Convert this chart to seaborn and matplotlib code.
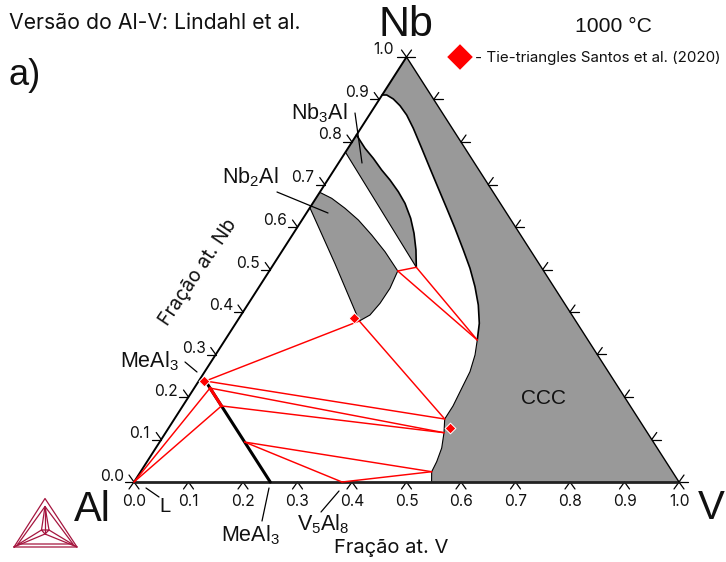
import matplotlib
matplotlib.use("Agg")
import matplotlib.pyplot as plt
import numpy as np
import seaborn as sns

# Phase boundaries as compositions (fraction V, fraction Nb)
ccc_v = [0.546, 0.5341, 0.5315, 0.5246, 0.5108, 0.496, 0.4959, 0.4911, 0.4867, 0.4763, 0.4628, 0.4469, 0.4235, 0.3959,
         0.3651, 0.3313, 0.2905, 0.2518, 0.2128, 0.174, 0.1353, 0.0964, 0.0686, 0.0454, 0.0252, 0.0084, 0.0]
ccc_nb = [0.0, 0.0242, 0.0478, 0.08, 0.116, 0.1482, 0.1788, 0.2205, 0.2595, 0.2988, 0.3341, 0.3734, 0.4165, 0.4595,
          0.5028, 0.5459, 0.5969, 0.644, 0.6911, 0.7381, 0.7852, 0.8322, 0.8635, 0.8854, 0.9012, 0.9106, 0.9106]

nb3al_v = [0.0, 0.0313, 0.0583, 0.0874, 0.1144, 0.1434, 0.1693, 0.1974, 0.2212, 0.2444, 0.2654]
nb3al_nb = [0.8165, 0.7852, 0.7616, 0.7341, 0.7106, 0.6831, 0.6558, 0.6205, 0.5852, 0.5459, 0.5052]

nb2al_v = [0.0, 0.029, 0.0652, 0.1034, 0.1455, 0.1896, 0.2357, 0.2418, 0.2412, 0.2365, 0.224, 0.112, 0.0]
nb2al_nb = [0.6816, 0.6675, 0.644, 0.6165, 0.5812, 0.5419, 0.4965, 0.4558, 0.4205, 0.3929, 0.3788, 0.5136, 0.6454]

meal3_v = [0.0124, 0.25]
meal3_nb = [0.2376, 0.0]

# Tie-line ends: (V, Nb)
tie_lines = [
    ((0.2357, 0.4965), (0.2654, 0.5052)),
    ((0.2357, 0.4965), (0.4628, 0.3341)),
    ((0.2654, 0.5052), (0.4628, 0.3341)),
    ((0.224, 0.3788), (0.0124, 0.2376)),
    ((0.224, 0.3788), (0.496, 0.1482)),
    ((0.0124, 0.2376), (0.496, 0.1482)),
    ((0.029, 0.221), (0.5108, 0.116)),
    ((0.029, 0.221), (0.0, 0.0)),
    ((0.071, 0.179), (0.5108, 0.116)),
    ((0.071, 0.179), (0.0, 0.0)),
    ((0.156, 0.094), (0.5341, 0.0242)),
    ((0.156, 0.094), (0.3817, 0.0)),
    ((0.3817, 0.0), (0.5341, 0.0242)),
]

# Santos et al. (2020) points
santos_v = [0.211, 0.0093, 0.516]
santos_nb = [0.3859, 0.2376, 0.127]

ticks = [0.1, 0.2, 0.3, 0.4, 0.5, 0.6, 0.7, 0.8, 0.9]
tick_labels = ["0.0", "0.1", "0.2", "0.3", "0.4", "0.5", "0.6", "0.7", "0.8", "0.9", "1.0"]

W, H = 726, 562
X0, X1, Y0, Y1 = 134, 679, 482, 57
SX, SY = X1 - X0, Y0 - Y1
GREY = "#999999"
RED = "#ff0000"
LOGO = "#a5163f"
WIDE = ["Inter", "Liberation Sans"]

sns.set_theme(style="white")
plt.rcParams["font.family"] = ["Liberation Sans", "DejaVu Sans"]
plt.rcParams["mathtext.fontset"] = "custom"
plt.rcParams["mathtext.rm"] = "Liberation Sans"
plt.rcParams["mathtext.default"] = "rm"


def cart(v, nb):
    v, nb = np.asarray(v, float), np.asarray(nb, float)
    return v + nb / 2, nb


def px(x, y):
    return (np.asarray(x, float) - X0) / SX, (Y0 - np.asarray(y, float)) / SY


fig = plt.figure(figsize=(W / 100, H / 100), dpi=100)
ax = fig.add_axes([0, 0, 1, 1])
ax.set_xlim(-X0 / SX, (W - X0) / SX)
ax.set_ylim((Y0 - H) / SY, Y0 / SY)
ax.axis("off")


def line(x, y, color="black", lw=1.0, z=3):
    sns.lineplot(x=x, y=y, sort=False, estimator=None, color=color, linewidth=lw, zorder=z, ax=ax)


def px_line(x, y, color="black", lw=1.0):
    a, b = px(x, y)
    ax.plot(a, b, color=color, lw=lw, solid_capstyle="round", zorder=6)


def label(x, y, s, size, ha="left", va="baseline", **kw):
    fig.text(x / W, 1 - y / H, s, fontsize=size, ha=ha, va=va, color="#111111", **kw)


# Grey single phase regions
x, y = cart(ccc_v + [0.0, 1.0], ccc_nb + [1.0, 0.0])
ax.fill(x, y, color=GREY, lw=0, zorder=1)
x, y = cart(nb3al_v + [0.0], nb3al_nb + [0.776])
ax.fill(x, y, color=GREY, lw=0, zorder=1)
x, y = cart(nb2al_v, nb2al_nb)
ax.fill(x, y, color=GREY, lw=0, zorder=1)

# Boundaries
x, y = cart(ccc_v, ccc_nb)
line(x[:11], y[:11], lw=0.8)
line(x[10:], y[10:], lw=1.2)
x, y = cart(nb3al_v, nb3al_nb)
line(x, y, lw=1.2)
x, y = cart([0.0, nb3al_v[-1]], [0.776, nb3al_nb[-1]])
line(x, y, lw=0.8)
x, y = cart(nb2al_v, nb2al_nb)
line(x, y, lw=0.8)

# Triangle frame
x, y = cart([0, 1], [0, 0])
line(x, y, color="#222222", lw=2.0, z=4)
x, y = cart([0, 0], [0, 1])
line(x, y, lw=1.4, z=4)
x, y = cart([0, 1], [1, 0])
line(x, y, lw=1.0, z=4)

# MeAl3 line
x, y = cart(meal3_v, meal3_nb)
line(x, y, lw=2.2, z=4)

# Tie lines
for a, b in tie_lines:
    x, y = cart([a[0], b[0]], [a[1], b[1]])
    line(x, y, color=RED, lw=1.05, z=5)
x, y = cart([0.029, 0.071], [0.221, 0.179])
line(x, y, color=RED, lw=2.2, z=5)

# Santos points and the legend marker
x, y = cart(santos_v, santos_nb)
sns.scatterplot(x=x, y=y, marker="D", s=30, color=RED, edgecolor="white", linewidth=0.7, zorder=7, ax=ax)
a, b = px(460, 57)
sns.scatterplot(x=[a], y=[b], marker="D", s=170, color=RED, edgecolor="none", zorder=7, ax=ax)

# Ticks, drawn along the ternary grid directions
HL, DX, DY = 9 / SX, 5 / SX, 7 / SY
for t in ticks + [0.0, 1.0]:
    # Nb axis
    x0, y0 = cart(0, t)
    ax.plot([x0 - HL, x0], [y0, y0], color="black", lw=0.9, zorder=3)
    ax.plot([x0 - DX, x0], [y0 + DY, y0], color="black", lw=0.9, zorder=3)
    # V axis
    x0, y0 = cart(t, 0)
    ax.plot([x0 - DX, x0, x0 + DX], [y0 - DY, y0, y0 - DY], color="black", lw=0.9, zorder=3)
    # Nb-V side
    x0, y0 = cart(t, 1 - t)
    if t > 0:
        ax.plot([x0, x0 + HL], [y0, y0], color="black", lw=0.9, zorder=3)
        ax.plot([x0, x0 + DX], [y0, y0 + DY], color="black", lw=0.9, zorder=3)
x0, y0 = cart(0, 1)
ax.plot([x0, x0 + HL], [y0, y0], color="black", lw=0.9, zorder=3)
ax.plot([x0, x0 + DX], [y0, y0 + DY], color="black", lw=0.9, zorder=3)

# Tick labels
for i, s in enumerate(tick_labels):
    t = i / 10
    label(X0 + SX * t, 501, s, 11.2, ha="center", va="center", family=WIDE)
    label(112 + 272 * t, 476.5 - 427 * t, s, 11.2, ha="center", va="center", family=WIDE)

# Leaders
for xs, ys in [
    ([355, 362], [113, 163]),
    ([277, 328], [192, 213]),
    ([185, 197], [362, 372]),
    ([146, 159], [488, 497]),
    ([269, 262], [488, 521]),
    ([339, 321], [491, 512]),
]:
    px_line(xs, ys, lw=0.9)

# Labels
label(9, 29, "Versão do Al-V: Lindahl et al.", 15.3, family=WIDE)
label(9, 85, "a)", 26)
label(378, 36, "Nb", 31)
label(613, 32, "1000 °C", 15.2, ha="center")
label(475, 62, "- Tie-triangles Santos et al. (2020)", 10.9, family=WIDE)
label(74, 521, "Al", 30)
label(698, 519, "V", 29)
label(543, 404, "CCC", 15, ha="center")
label(334, 553, "Fração at. V", 14.5, family=WIDE)
label(198, 272, "Fração at. Nb", 14, ha="center", va="center", rotation=56, rotation_mode="anchor", family=WIDE)
label(291, 119, r"Nb$_3$Al", 15.5)
label(222, 183, r"Nb$_2$Al", 15.5)
label(120, 367, r"MeAl$_3$", 15.5)
label(159, 512, "L", 14.5)
label(221, 541, r"MeAl$_3$", 15.5)
label(297, 530, r"V$_5$Al$_8$", 15.5)

# Logo
logo_segments = [
    ([14, 45, 77, 14], [547, 498.5, 547, 547]),
    ([18, 45, 73, 18], [544, 506.5, 544, 544]),
    ([41.5, 49, 45, 41.5], [530, 530, 534, 530]),
    ([45, 41.5], [506.5, 530]),
    ([45, 49], [506.5, 530]),
    ([14, 45, 77], [547, 534, 547]),
    ([14, 41.5], [547, 530]),
    ([77, 49], [547, 530]),
    ([45, 45], [534, 506.5]),
]
for xs, ys in logo_segments:
    a, b = px(xs, ys)
    ax.plot(a, b, color=LOGO, lw=0.9, zorder=6)

fig.savefig("out.png", dpi=100)
